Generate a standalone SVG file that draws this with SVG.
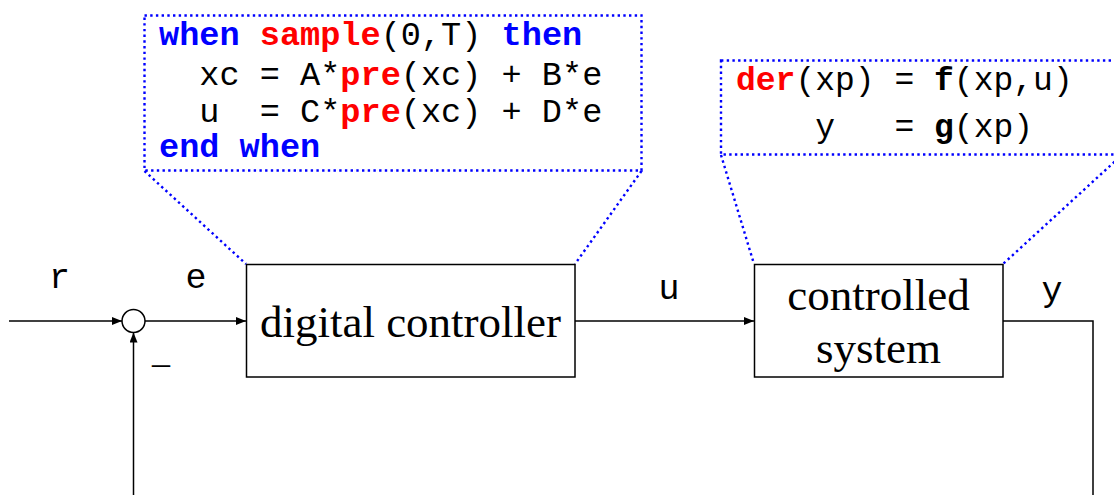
<svg xmlns="http://www.w3.org/2000/svg" width="1114" height="495" viewBox="0 0 1114 495">
<defs>
<marker id="arr" markerWidth="10" markerHeight="8" refX="10" refY="4" orient="auto" markerUnits="userSpaceOnUse">
<path d="M0,0 L10,4 L0,8 Z" fill="#000"/>
</marker>
<style>
.dot{fill:none;stroke:#0000ff;stroke-width:2.4;stroke-dasharray:2.4 3.3}
.box{fill:#fff;stroke:#000;stroke-width:1.5}
.ln{fill:none;stroke:#000;stroke-width:1.5}
.code{font-family:"Liberation Mono","Courier New",monospace;fill:#000}
.kw{font-weight:bold;fill:#0000ff}
.fn{font-weight:bold;fill:#ff0000}
.bf{font-weight:bold}
.lbl{font-family:"Liberation Mono","Courier New",monospace;font-size:35px;fill:#000}
.blk{font-family:"Liberation Serif","Times New Roman",serif;font-size:45px;fill:#000;text-anchor:middle}
</style>
</defs>
<rect width="1114" height="495" fill="#fff"/>

<g id="callout-controller">
<rect class="dot" x="144.5" y="15.5" width="497" height="155"/>
<path class="dot" d="M144.5,171 L246,264 M641.5,171 L575,264"/>
<text class="code" font-size="33.6" xml:space="preserve"><tspan x="159" y="45"><tspan class="kw">when</tspan> <tspan class="fn">sample</tspan>(0,T) <tspan class="kw">then</tspan></tspan><tspan x="159" y="85">  xc = A*<tspan class="fn">pre</tspan>(xc) + B*e</tspan><tspan x="159" y="122">  u  = C*<tspan class="fn">pre</tspan>(xc) + D*e</tspan><tspan x="159" y="157"><tspan class="kw">end when</tspan></tspan></text>
</g>

<g id="callout-plant">
<rect class="dot" x="721" y="60.5" width="420" height="94"/>
<path class="dot" d="M721,155 L754,264 M1123,154 L1003,264"/>
<text class="code" font-size="33" xml:space="preserve"><tspan x="736" y="90"><tspan class="fn">der</tspan>(xp) = <tspan class="bf">f</tspan>(xp,u)</tspan><tspan x="736" y="137">    y   = <tspan class="bf">g</tspan>(xp)</tspan></text>
</g>

<g id="connectors">
<line class="ln" x1="9" y1="321" x2="122" y2="321" marker-end="url(#arr)"/>
<line class="ln" x1="145" y1="321" x2="246" y2="321" marker-end="url(#arr)"/>
<line class="ln" x1="133.5" y1="500" x2="133.5" y2="332.5" marker-end="url(#arr)"/>
<line class="ln" x1="575" y1="321" x2="754" y2="321" marker-end="url(#arr)"/>
<polyline class="ln" points="1003,321 1093,321 1093,500"/>
</g>

<g id="sum">
<circle cx="133.5" cy="321" r="11.5" fill="#fff" stroke="#000" stroke-width="1.5"/>
<text x="161" y="375" font-family="Liberation Serif, serif" font-size="36" text-anchor="middle">–</text>
</g>

<g id="digital-controller">
<rect class="box" x="246.5" y="264.5" width="328.5" height="112.5"/>
<text class="blk" x="410.5" y="337">digital controller</text>
</g>

<g id="controlled-system">
<rect class="box" x="754.5" y="264.5" width="248.5" height="112.5"/>
<text class="blk" x="878.5" y="310">controlled</text>
<text class="blk" x="878.5" y="363">system</text>
</g>

<g id="labels">
<text class="lbl" x="59.5" y="288" text-anchor="middle">r</text>
<text class="lbl" x="196" y="288" text-anchor="middle">e</text>
<text class="lbl" x="669" y="299" text-anchor="middle">u</text>
<text class="lbl" x="1052" y="301" text-anchor="middle">y</text>
</g>
</svg>
